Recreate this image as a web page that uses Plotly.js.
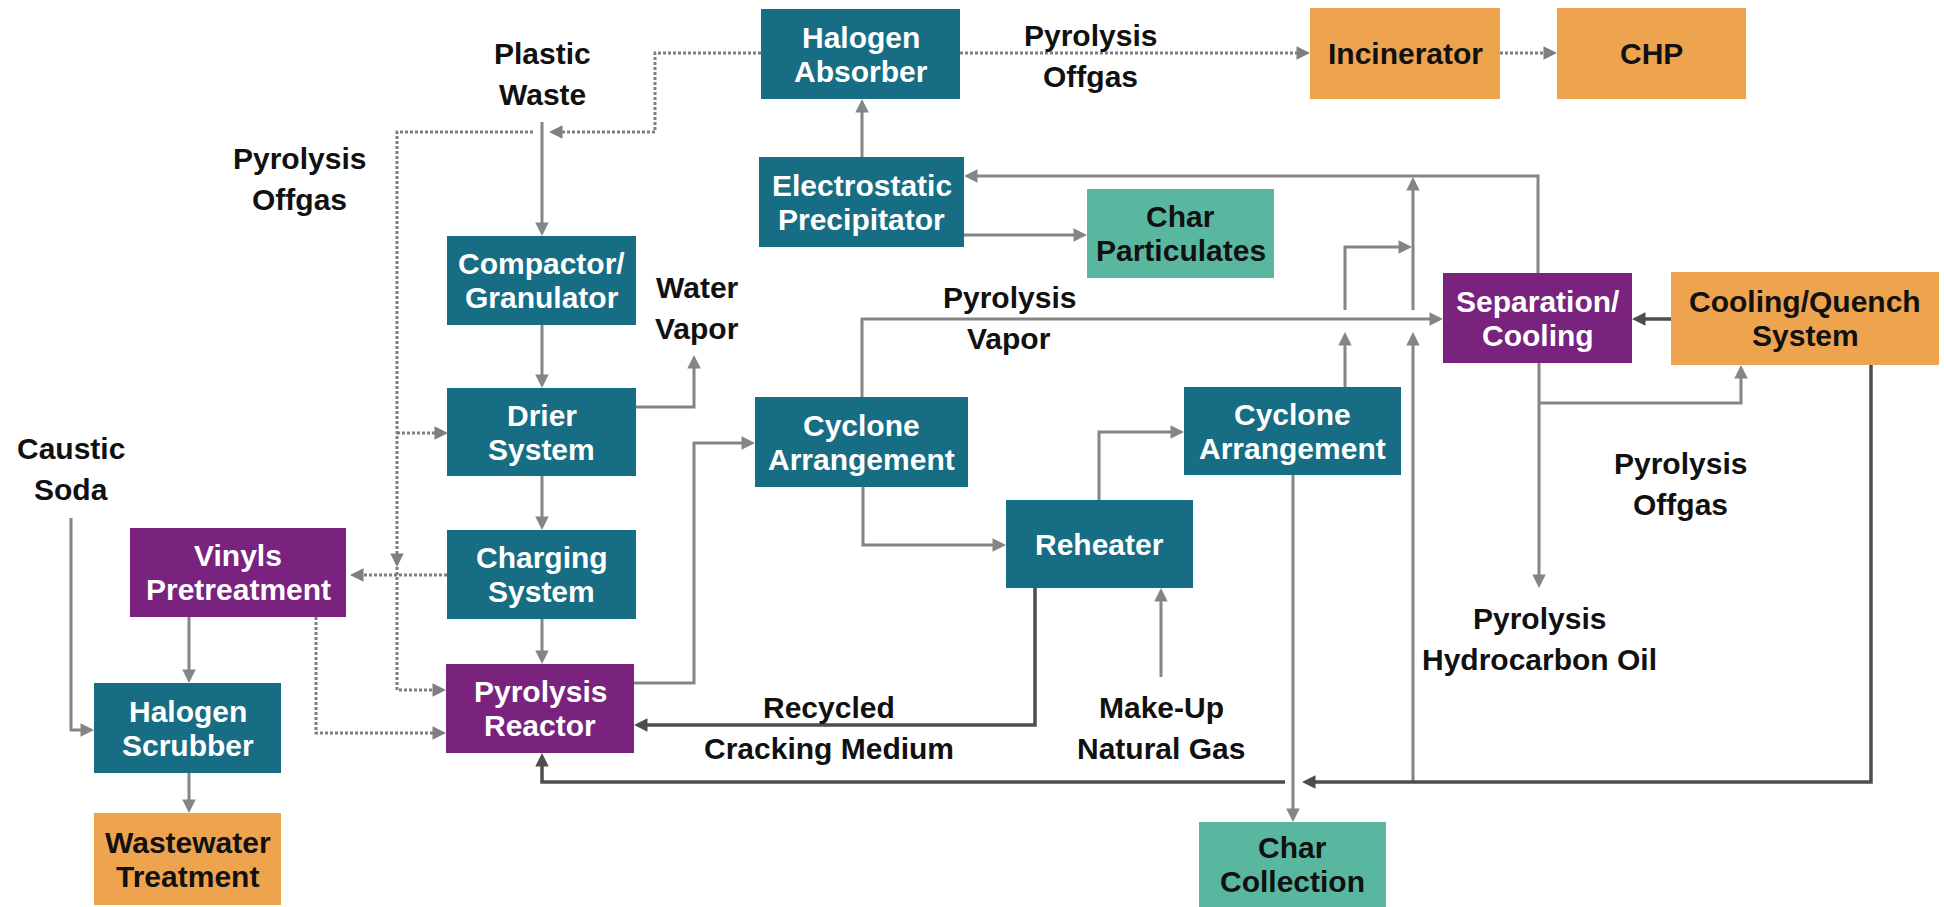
<!DOCTYPE html>
<html><head><meta charset="utf-8">
<script src="https://cdn.plot.ly/plotly-3.0.1.min.js"></script>
<style>html,body{margin:0;padding:0;background:#fff;overflow:hidden}</style>
</head><body><div id="chart" style="width:1944px;height:907px"></div>
<script>
// ---------- process units (boxes) ----------
const nodeLines = [
  ["Halogen","Absorber"], ["Incinerator"], ["CHP"],
  ["Electrostatic","Precipitator"], ["Char","Particulates"],
  ["Compactor/","Granulator"], ["Separation/","Cooling"], ["Cooling/Quench","System"],
  ["Drier","System"], ["Cyclone","Arrangement"], ["Cyclone","Arrangement"],
  ["Reheater"], ["Vinyls","Pretreatment"], ["Charging","System"],
  ["Pyrolysis","Reactor"], ["Halogen","Scrubber"], ["Wastewater","Treatment"],
  ["Char","Collection"]
];
const nodeKind = ["teal","orange","orange","teal","green","teal","purple","orange",
  "teal","teal","teal","teal","purple","teal","purple","teal","orange","green"];
const nodeX0 = [761,1310,1557, 759,1087, 447,1443,1671, 447, 755,1184,1006, 130, 447, 446,  94,  94,1199];
const nodeX1 = [960,1500,1746, 964,1274, 636,1632,1939, 636, 968,1401,1193, 346, 636, 634, 281, 281,1386];
const nodeY0 = [  9,   8,   8, 157, 189, 236, 273, 272, 388, 397, 387, 500, 528, 530, 664, 683, 813, 822];
const nodeY1 = [ 99,  99,  99, 247, 278, 325, 363, 365, 476, 487, 475, 588, 617, 619, 753, 773, 905, 907];

// ---------- free stream labels ----------
const labelLines = [
  ["Plastic","Waste"], ["Pyrolysis","Offgas"], ["Pyrolysis","Offgas"],
  ["Water","Vapor"], ["Pyrolysis","Vapor"], ["Caustic","Soda"],
  ["Pyrolysis","Offgas"], ["Pyrolysis","Hydrocarbon Oil"],
  ["Recycled","Cracking Medium"], ["Make-Up","Natural Gas"]
];
const labelX = [542, 299, 1090, 697, 1009,  71, 1680, 1539,  829, 1161];
const labelY = [ 53, 158,   35, 287,  297, 448,  463,  618,  707,  707];

// ---------- streams (polylines, arrow at last point) ----------
const solidEdges = [
  [[542,122],[542,236]],
  [[542,325],[542,388]],
  [[542,476],[542,530]],
  [[542,619],[542,664]],
  [[636,407],[694,407],[694,355]],
  [[634,683],[694,683],[694,443],[755,443]],
  [[862,397],[862,319],[1443,319]],
  [[863,487],[863,545],[1006,545]],
  [[1099,500],[1099,432],[1184,432]],
  [[1161,677],[1161,588]],
  [[1293,475],[1293,822]],
  [[1345,387],[1345,332]],
  [[1345,310],[1345,247],[1412,247]],
  [[1413,782],[1413,332]],
  [[1413,310],[1413,177]],
  [[1538,273],[1538,176],[964,176]],
  [[862,157],[862,99]],
  [[964,235],[1087,235]],
  [[1539,363],[1539,588]],
  [[1539,403],[1741,403],[1741,365]],
  [[71,518],[71,730],[94,730]],
  [[189,617],[189,683]],
  [[189,773],[189,813]]
];
const dottedEdges = [
  [[761,53],[655,53],[655,132],[549,132]],
  [[533,132],[397,132],[397,567]],
  [[397,567],[397,690],[446,690]],
  [[397,433],[448,433]],
  [[447,575],[350,575]],
  [[316,617],[316,733],[446,733]],
  [[960,53],[1310,53]],
  [[1500,53],[1557,53]]
];
const darkEdges = [
  [[1035,588],[1035,725],[634,725]],
  [[1671,319],[1632,319]],
  [[1871,365],[1871,782],[1302,782]],
  [[1285,782],[542,782],[542,753]]
];

// ---------- styles ----------
const kindFill = {teal:"#176e84", purple:"#79237f", orange:"#eea34e", green:"#5ab79f"};
const kindText = {teal:"#ffffff", purple:"#ffffff", orange:"#111111", green:"#111111"};
const FONT = "Liberation Sans, Arial, sans-serif";
const FS = 30;
const GREY = "#858585", DOT = "#7f7f7f", DARK = "#4e4e48";

const shapes = [];
const annotations = [];

function addEdge(pts, color, dash, width) {
  const n = pts.length;
  const [tx, ty] = pts[n-1];
  const [px, py] = pts[n-2];
  const len = Math.hypot(tx-px, ty-py);
  const ux = (tx-px)/len, uy = (ty-py)/len;
  const back = 8;
  const pp = pts.slice(0, n-1).concat([[tx-ux*back, ty-uy*back]]);
  let d = "M" + pp.map(p => p[0] + "," + p[1]).join(" L");
  shapes.push({type:"path", xref:"x", yref:"y", path:d,
    line:{color:color, width:width, dash:dash}, layer:"below"});
  const hl = Math.min(14, len);
  annotations.push({x:tx, y:ty, ax:tx-ux*hl, ay:ty-uy*hl, xref:"x", yref:"y",
    axref:"x", ayref:"y", text:"", showarrow:true, arrowhead:2,
    arrowsize:0.9, arrowwidth:3, arrowcolor:color, standoff:0, startstandoff:0});
}
solidEdges.forEach(e => addEdge(e, GREY, "solid", 3));
dottedEdges.forEach(e => addEdge(e, DOT, "3px,2px", 3));
darkEdges.forEach(e => addEdge(e, DARK, "solid", 3.5));

for (let i = 0; i < nodeLines.length; i++) {
  shapes.push({type:"rect", xref:"x", yref:"y", x0:nodeX0[i], x1:nodeX1[i],
    y0:nodeY0[i], y1:nodeY1[i], fillcolor:kindFill[nodeKind[i]],
    line:{width:0}, layer:"above"});
  const cx = (nodeX0[i]+nodeX1[i])/2, cy = (nodeY0[i]+nodeY1[i])/2;
  const lines = nodeLines[i];
  lines.forEach((t, k) => {
    const off = (k - (lines.length-1)/2) * 34;
    annotations.push({x:cx, y:cy+off, xref:"x", yref:"y", text:"<b>"+t+"</b>",
      showarrow:false, xanchor:"center", yanchor:"middle",
      font:{family:FONT, size:FS, color:kindText[nodeKind[i]]}});
  });
}
labelLines.forEach((lines, i) => {
  lines.forEach((t, k) => {
    annotations.push({x:labelX[i], y:labelY[i] + k*41, xref:"x", yref:"y",
      text:"<b>"+t+"</b>", showarrow:false, xanchor:"center", yanchor:"middle",
      font:{family:FONT, size:FS, color:"#111111"}});
  });
});

const layout = {
  width:1944, height:907, margin:{l:0,r:0,t:0,b:0},
  paper_bgcolor:"#ffffff", plot_bgcolor:"#ffffff",
  xaxis:{range:[0,1944], visible:false, fixedrange:true},
  yaxis:{range:[907,0], visible:false, fixedrange:true},
  shapes:shapes, annotations:annotations, showlegend:false
};
Plotly.newPlot("chart", [{x:[0], y:[0], mode:"markers", marker:{opacity:0}, hoverinfo:"skip"}],
  layout, {staticPlot:true, displayModeBar:false});
</script></body></html>
